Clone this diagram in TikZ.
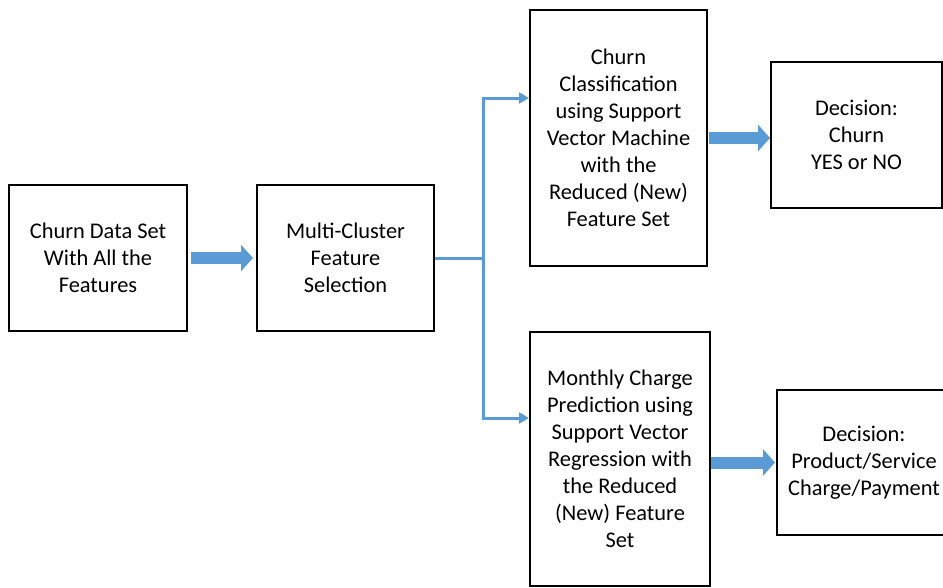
\documentclass[tikz,border=0pt]{standalone}
\usepackage{fontspec}
\setmainfont{Carlito}
\usetikzlibrary{arrows.meta}
\definecolor{flowblue}{RGB}{91,155,213}

\tikzset{
  box/.style={draw,line width=2pt,inner sep=0pt,align=center,
    font=\fontsize{22.4}{27}\selectfont},
  fat/.style={flowblue,line width=12pt,-{Triangle[length=12pt,width=26pt]}},
  branch/.style={flowblue,line width=3pt},
}

\begin{document}
\begin{tikzpicture}[x=1pt,y=-1pt]
\useasboundingbox (0,0) rectangle (943,587);
\clip (0,0) rectangle (943,587);
\node[box,minimum width=178pt,minimum height=146pt] (D) at (98,258) {Churn Data Set\\With All the\\Features};
\node[box,minimum width=177pt,minimum height=146pt] (M) at (345.5,258) {Multi-Cluster\\Feature\\Selection};
\node[box,minimum width=177pt,minimum height=256pt] (C) at (618.5,138) {Churn\\Classification\\using Support\\Vector Machine\\with the\\Reduced (New)\\Feature Set};
\node[box,minimum width=180pt,minimum height=254pt] (R) at (620,459) {Monthly Charge\\Prediction using\\Support Vector\\Regression with\\the Reduced\\(New) Feature\\Set};
\node[box,minimum width=171pt,minimum height=146pt] (Y) at (856.5,135) {Decision:\\Churn\\YES or NO};
\node[box,minimum width=174pt,minimum height=145pt] (P) at (864,462.5) {Decision:\\Product/Service\\Charge/Payment};
\coordinate (J) at (483,258);
\draw[fat,shorten <=3pt,shorten >=3pt] (D) -- (M);
\draw[fat,shorten <=1pt] (C.east) -- (C.east -| Y.west);
\draw[fat,shorten >=1pt] (R.east |- P.west) -- (P.west);
\draw[branch] (M.east |- J) -- (J);
\draw[branch,-{Triangle[length=10pt,width=11pt]}] (J) |- ([yshift=40pt]C.west);
\draw[branch,-{Triangle[length=10pt,width=11pt]}] (J) |- ([yshift=41pt]R.west);
\end{tikzpicture}
\end{document}
